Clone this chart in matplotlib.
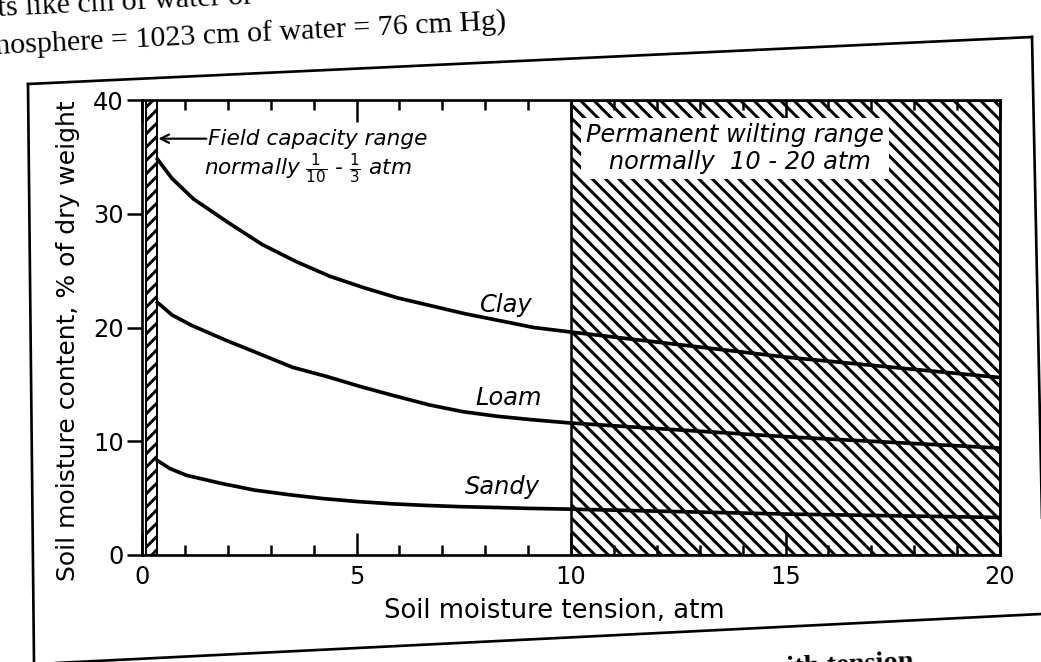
import matplotlib
matplotlib.use("Agg")
import matplotlib.pyplot as plt
from matplotlib.lines import Line2D
from matplotlib.ticker import MultipleLocator

W, H, DPI = 1041, 662, 120

plt.rcParams['font.family'] = 'DejaVu Sans'
plt.rcParams['mathtext.fontset'] = 'dejavusans'
plt.rcParams['hatch.linewidth'] = 1.8
plt.rcParams['hatch.color'] = 'black'

###############################################
### Data
###############################################
clay_x = [0.36, 0.7, 1.2, 2.02, 2.8, 3.59, 4.38, 5.17, 5.96, 6.75, 7.54, 8.34, 9.13, 10.0, 15.0, 20.0]
clay_y = [34.8, 33.1, 31.3, 29.2, 27.3, 25.8, 24.5, 23.5, 22.6, 21.9, 21.2, 20.6, 20.0, 19.6, 17.4, 15.6]

loam_x = [0.36, 0.7, 1.15, 1.94, 2.73, 3.51, 4.3, 5.1, 5.88, 6.69, 7.48, 8.27, 9.07, 10.0, 15.0, 20.0]
loam_y = [22.2, 21.1, 20.2, 18.9, 17.7, 16.5, 15.7, 14.8, 14.0, 13.2, 12.6, 12.2, 11.9, 11.6, 10.4, 9.4]

sandy_x = [0.36, 0.65, 1.04, 1.84, 2.63, 3.43, 4.22, 5.02, 5.82, 6.61, 7.41, 8.21, 9.0, 10.0, 15.0, 20.0]
sandy_y = [8.3, 7.6, 7.0, 6.3, 5.7, 5.3, 4.96, 4.7, 4.5, 4.36, 4.25, 4.18, 4.1, 4.03, 3.6, 3.3]

field_capacity = (0.1, 0.36)    # atm
wilting_range = (10, 20)        # atm

x_ticks = [0, 5, 10, 15, 20]
y_ticks = [0, 10, 20, 30, 40]


def fx(x):
    return x / W


def fy(y):
    return 1 - y / H


fig = plt.figure(figsize=(W / DPI, H / DPI), dpi=DPI)
fig.patch.set_facecolor('white')
ax = fig.add_axes([fx(142), fy(555), 858 / W, 455 / H])

# shaded ranges
ax.axvspan(*wilting_range, facecolor='white', edgecolor='black',
           hatch='\\\\\\', lw=1.5, zorder=1)
ax.axvspan(*field_capacity, facecolor='white', edgecolor='black',
           hatch='///', lw=1.2, zorder=1)

# curves
for xs, ys in [(clay_x, clay_y), (loam_x, loam_y), (sandy_x, sandy_y)]:
    ax.plot(xs, ys, color='black', lw=2.2, zorder=3)

ax.text(8.5, 22.0, 'Clay', style='italic', fontsize=14.5, ha='center', va='center', zorder=4)
ax.text(8.55, 13.8, 'Loam', style='italic', fontsize=14.5, ha='center', va='center', zorder=4)
ax.text(8.4, 6.0, 'Sandy', style='italic', fontsize=14.5, ha='center', va='center', zorder=4)

ax.text(10.35, 35.7, 'Permanent wilting range\n   normally  10 - 20 atm',
        style='italic', fontsize=14.5, ha='left', va='center', linespacing=1.15,
        bbox=dict(facecolor='white', edgecolor='none', pad=3), zorder=4)

ax.annotate('', xy=(0.38, 36.6), xytext=(1.5, 36.6),
            arrowprops=dict(arrowstyle='->,head_length=0.5,head_width=0.25',
                            lw=1.3, color='black', shrinkA=0, shrinkB=0))
ax.text(1.55, 36.6, 'Field capacity range', style='italic', fontsize=13,
        ha='left', va='center')
ax.text(1.45, 34.0, r'normally $\frac{\mathit{1}}{\mathit{10}}$ - $\frac{\mathit{1}}{\mathit{3}}$ atm',
        style='italic', fontsize=13, ha='left', va='center')

# axes
ax.set_xlim(0, 20)
ax.set_ylim(0, 40)
ax.set_xticks(x_ticks)
ax.set_yticks(y_ticks)
ax.xaxis.set_minor_locator(MultipleLocator(1))
ax.tick_params(axis='x', which='major', direction='in', length=13, width=1.5,
               top=True, bottom=True, labelsize=14.5, pad=6)
ax.tick_params(axis='x', which='minor', direction='in', length=6, width=1.5,
               top=True, bottom=True)
ax.tick_params(axis='y', which='major', direction='out', length=9, width=1.5,
               left=True, right=False, labelsize=14.5, pad=2)
for s in ax.spines.values():
    s.set_linewidth(1.6)

ax.set_xlabel('Soil moisture tension, atm', fontsize=15.5)
ax.set_ylabel('Soil moisture content, % of dry weight', fontsize=15)
ax.xaxis.set_label_coords(0.481, -0.095)
ax.yaxis.set_label_coords(-0.072, 0.47)

# page frame and surrounding page text
frame = [((28, 84), (1032, 37)), ((1032, 37), (1045, 662)),
         ((36, 664), (1041, 614)), ((28, 84), (34, 662))]
for (x0, y0), (x1, y1) in frame:
    fig.add_artist(Line2D([fx(x0), fx(x1)], [fy(y0), fy(y1)],
                          transform=fig.transFigure, color='black', lw=1.6))

fig.text(fx(-2), fy(16), 'ts like cm of water or', family='Liberation Serif',
         fontsize=18, rotation=2.8, rotation_mode='anchor', ha='left', va='baseline')
fig.text(fx(-4), fy(55), 'nosphere = 1023 cm of water = 76 cm Hg)', family='Liberation Serif',
         fontsize=18, rotation=2.8, rotation_mode='anchor', ha='left', va='baseline')
fig.text(fx(787), fy(675), 'ith tension', family='Liberation Serif', weight='bold',
         fontsize=17, rotation=2.8, rotation_mode='anchor', ha='left', va='baseline')

fig.savefig('out.png', dpi=DPI, facecolor='white')
